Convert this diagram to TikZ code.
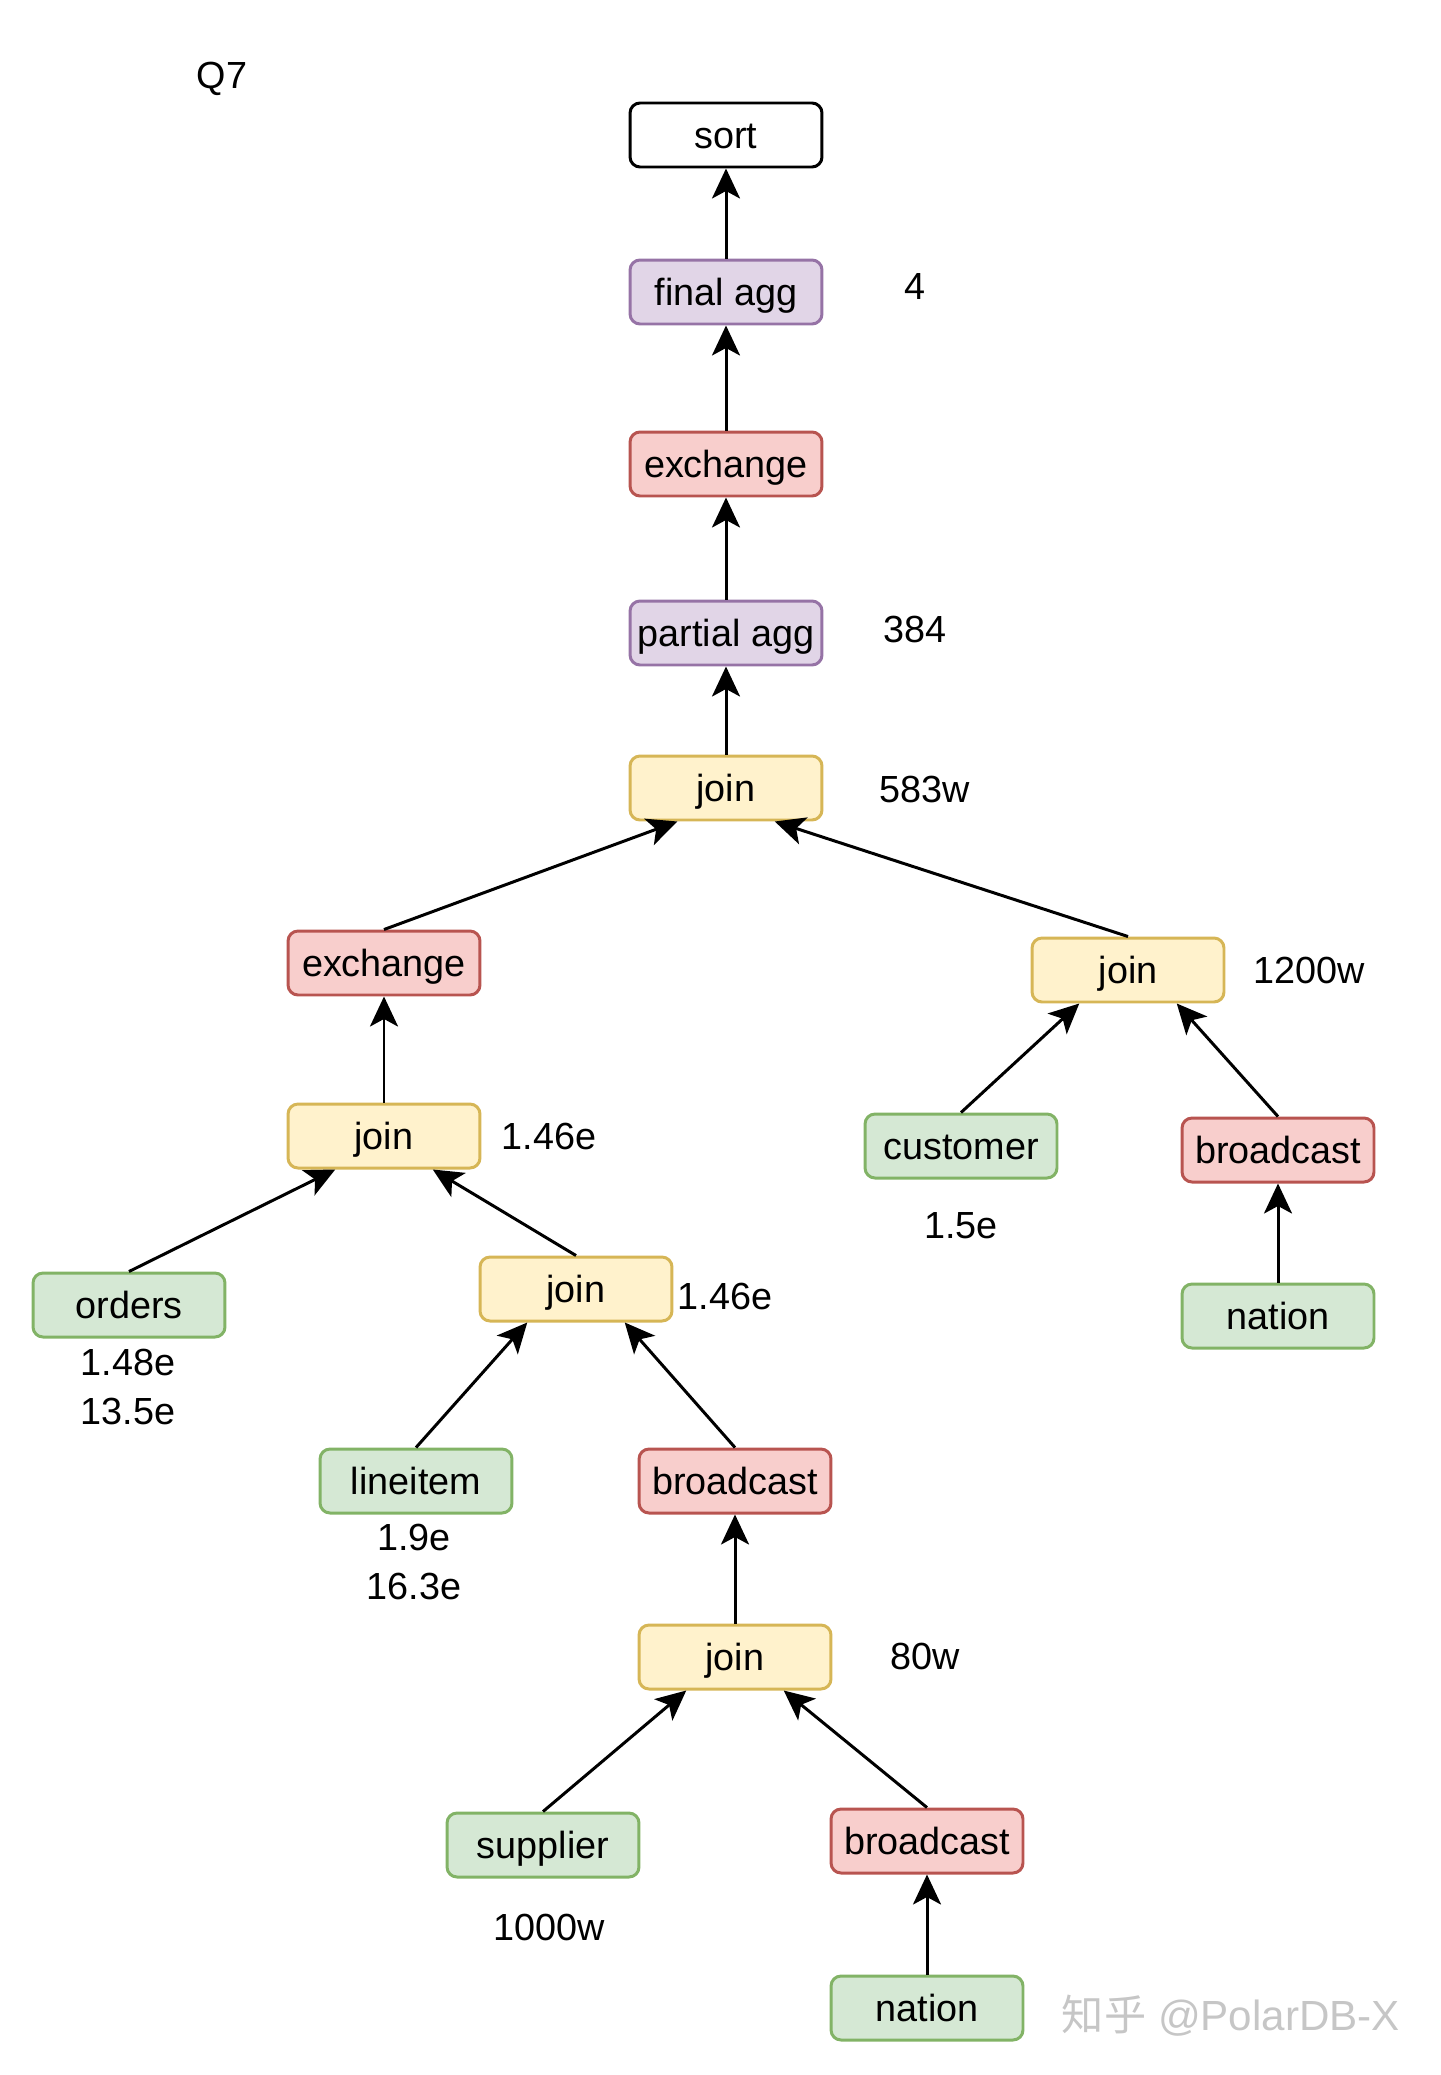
\documentclass[tikz,border=0pt]{standalone}
\usepackage{fontspec}
\setmainfont{Liberation Sans}
\newfontfamily\cjk{Noto Sans CJK SC}
\usepackage{xcolor}
\usepackage{tikz}
\usetikzlibrary{arrows.meta, calc, positioning}

\definecolor{scanfill}{HTML}{D5E8D4}
\definecolor{scanline}{HTML}{82B366}
\definecolor{joinfill}{HTML}{FFF2CC}
\definecolor{joinline}{HTML}{D6B656}
\definecolor{xchgfill}{HTML}{F8CECC}
\definecolor{xchgline}{HTML}{B85450}
\definecolor{aggfill}{HTML}{E1D5E7}
\definecolor{aggline}{HTML}{9673A6}

\begin{document}
\begin{tikzpicture}[x=0.02cm, y=-0.02cm,
  op/.style={draw, rounded corners=0.2cm, line width=1.7pt, minimum width=3.84cm,
    minimum height=1.28cm, inner sep=0pt, text height=19.4pt, text depth=4.3pt,
    font=\fontsize{21.5}{26}\selectfont},
  scan/.style={op, fill=scanfill, draw=scanline},
  joinop/.style={op, fill=joinfill, draw=joinline},
  xchg/.style={op, fill=xchgfill, draw=xchgline},
  agg/.style={op, fill=aggfill, draw=aggline},
  num/.style={font=\fontsize{21.5}{28}\selectfont, align=center},
  flow/.style={line width=1.7pt, -{Stealth[length=0.6cm, width=0.56cm, inset=0.15cm]}}
]
\useasboundingbox (0,0) rectangle (1440,2075);

% Title
\node[num] (title) at (222,79) {Q7};

% Top of the plan
\node[op, fill=white, draw=black] (sort) at (726,135) {sort};
\node[agg] (fagg) at (726,292) {final agg};
\node[xchg] (xchgtop) at (726,464) {exchange};
\node[agg] (pagg) at (726,633) {partial agg};
\node[joinop] (jointop) at (726,788) {join};

% Left branch
\node[xchg] (xchgleft) at (384,963) {exchange};
\node[joinop] (joinleft) at (384,1136) {join};
\node[scan] (orders) at (129,1305) {orders};
\node[joinop] (joinmid) at (576,1289) {join};
\node[scan] (lineitem) at (416,1481) {lineitem};
\node[xchg] (bcmid) at (735,1481) {broadcast};
\node[joinop] (joinlow) at (735,1657) {join};
\node[scan] (supplier) at (543,1845) {supplier};
\node[xchg] (bclow) at (927,1841) {broadcast};
\node[scan] (nationlow) at (927,2008) {nation};

% Right branch
\node[joinop] (joinright) at (1128,970) {join};
\node[scan] (customer) at (961,1146) {customer};
\node[xchg] (bcright) at (1278,1150) {broadcast};
\node[scan] (nationright) at (1278,1316) {nation};

% Row counts
\node[num] (nfagg) at (915,287) {4};
\node[num] (npagg) at (915,629) {384};
\node[num] (njointop) at (925,789) {583w};
\node[num] (njoinright) at (1309,970) {1200w};
\node[num] (njoinleft) at (549,1136) {1.46e};
\node[num] (ncustomer) at (961,1226) {1.5e};
\node[num] (norders) at (128,1387) {1.48e\\13.5e};
\node[num] (njoinmid) at (725,1296) {1.46e};
\node[num] (nlineitem) at (414,1562) {1.9e\\16.3e};
\node[num] (njoinlow) at (925,1656) {80w};
\node[num] (nsupplier) at (549,1927) {1000w};

% Edges
\draw[flow] (fagg) -- (sort);
\draw[flow] (xchgtop) -- (fagg);
\draw[flow] (pagg) -- (xchgtop);
\draw[flow] (jointop) -- (pagg);
\draw[flow] (xchgleft.north) -- ($(jointop.south west)!.25!(jointop.south east)$);
\draw[flow] (joinright.north) -- ($(jointop.south west)!.75!(jointop.south east)$);
\draw[flow] (joinleft) -- (xchgleft);
\draw[flow] (orders.north) -- ($(joinleft.south west)!.25!(joinleft.south east)$);
\draw[flow] (joinmid.north) -- ($(joinleft.south west)!.75!(joinleft.south east)$);
\draw[flow] (lineitem.north) -- ($(joinmid.south west)!.25!(joinmid.south east)$);
\draw[flow] (bcmid.north) -- ($(joinmid.south west)!.75!(joinmid.south east)$);
\draw[flow] (joinlow) -- (bcmid);
\draw[flow] (supplier.north) -- ($(joinlow.south west)!.25!(joinlow.south east)$);
\draw[flow] (bclow.north) -- ($(joinlow.south west)!.75!(joinlow.south east)$);
\draw[flow] (nationlow) -- (bclow);
\draw[flow] (customer.north) -- ($(joinright.south west)!.25!(joinright.south east)$);
\draw[flow] (bcright.north) -- ($(joinright.south west)!.75!(joinright.south east)$);
\draw[flow] (nationright) -- (bcright);

% Watermark
\node[text=gray!45, font=\fontsize{24}{28}\selectfont] (mark) at (1231,2016) {{\cjk 知乎} @PolarDB-X};

\end{tikzpicture}
\end{document}
